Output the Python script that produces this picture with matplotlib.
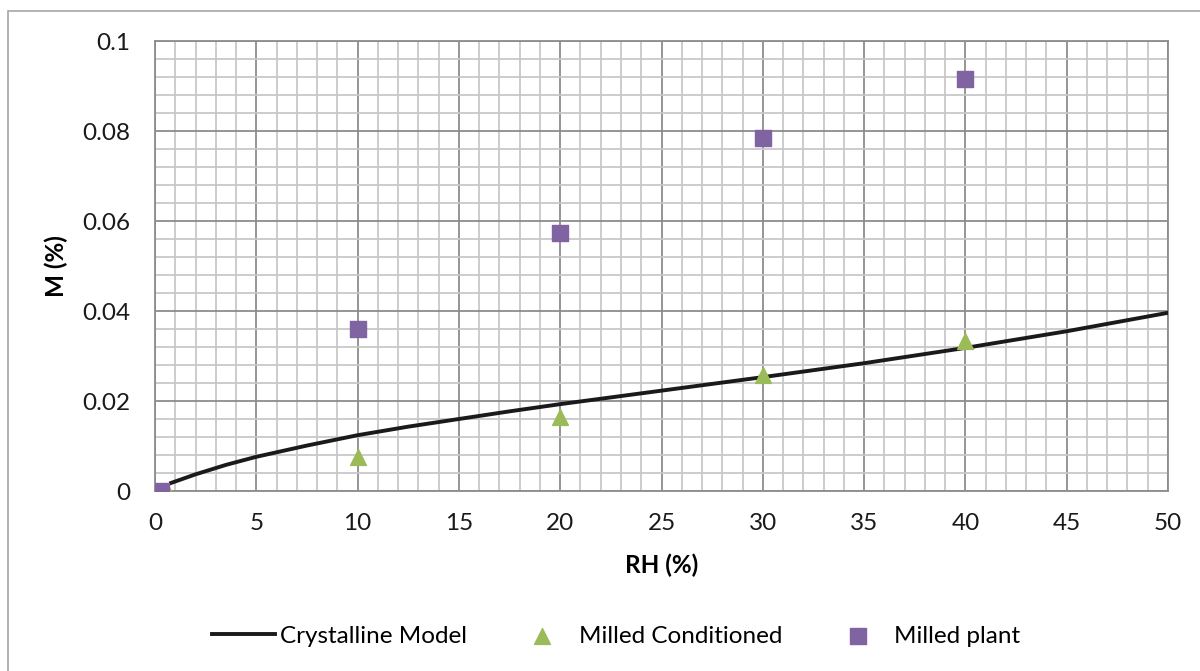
import numpy as np
import matplotlib.pyplot as plt
from matplotlib.patches import Rectangle

plt.rcParams['font.family'] = ['Lato', 'DejaVu Sans']

# Crystalline model curve
model_rh = [0.8, 2, 3.5, 5, 7.5, 10, 12.5, 15, 17.5, 20, 25, 30, 35, 40, 45, 50]
model_m = [0.0018, 0.0037, 0.0058, 0.0076, 0.0101, 0.0124, 0.0143, 0.0160,
           0.0177, 0.0193, 0.0223, 0.0253, 0.0284, 0.0318, 0.0355, 0.0396]

# measured points
cond_rh = [0.6, 10, 20, 30, 40]
cond_m = [0.0, 0.0076, 0.0164, 0.0258, 0.0333]

plant_rh = [0.3, 10, 20, 30, 40]
plant_m = [0.0, 0.036, 0.0573, 0.0784, 0.0916]

fig = plt.figure(figsize=(12, 6.71), dpi=100)
ax = fig.add_axes([155 / 1200, 1 - 491 / 671, (1168 - 155) / 1200, (491 - 41) / 671])

# outer chart border (runs off the right and bottom edges)
fig.patches.append(Rectangle((8 / 1200, -0.05), 1.2, 1 - 11 / 671 + 0.05,
                             transform=fig.transFigure, fill=False,
                             edgecolor='#a6a6a6', linewidth=1.2))

ax.plot(model_rh, model_m, color='#1a1a1a', linewidth=2.8, label='Crystalline Model', zorder=3)
ax.scatter(cond_rh, cond_m, marker='^', s=130, color='#9bbb59', label='Milled Conditioned', zorder=4)
ax.scatter(plant_rh, plant_m, marker='s', s=120, color='#8064a2', label='Milled plant', zorder=5)

ax.set_xlim(0, 50)
ax.set_ylim(0, 0.1)
ax.set_xticks(np.arange(0, 51, 5))
ax.set_xticks(np.arange(0, 51, 1), minor=True)
ax.set_yticks([0, 0.02, 0.04, 0.06, 0.08, 0.1])
ax.set_yticklabels(['0', '0.02', '0.04', '0.06', '0.08', '0.1'])
ax.set_yticks(np.arange(0, 0.1001, 0.004), minor=True)

ax.grid(which='minor', color='#c8c8c8', linewidth=1.3)
ax.grid(which='major', color='#8c8c8c', linewidth=1.3)
ax.set_axisbelow(True)
for s in ax.spines.values():
    s.set_color('#8c8c8c')
    s.set_linewidth(1.3)
ax.tick_params(which='both', length=0)
ax.tick_params(axis='y', pad=18, labelsize=17.5, colors='#1a1a1a')
ax.tick_params(axis='x', pad=16, labelsize=17.5, colors='#1a1a1a')

ax.set_xlabel('RH (%)', fontsize=17.5, fontweight='bold', labelpad=14)
ax.set_ylabel('M (%)', fontsize=17.5, fontweight='bold', labelpad=10)

ax.legend(loc='center', bbox_to_anchor=(616 / 1200, 1 - 636 / 671),
          bbox_transform=fig.transFigure, ncol=3, frameon=False,
          fontsize=17.5, handlelength=2.6, columnspacing=1.8, handletextpad=0.2)

fig.savefig('out.png', dpi=100)
